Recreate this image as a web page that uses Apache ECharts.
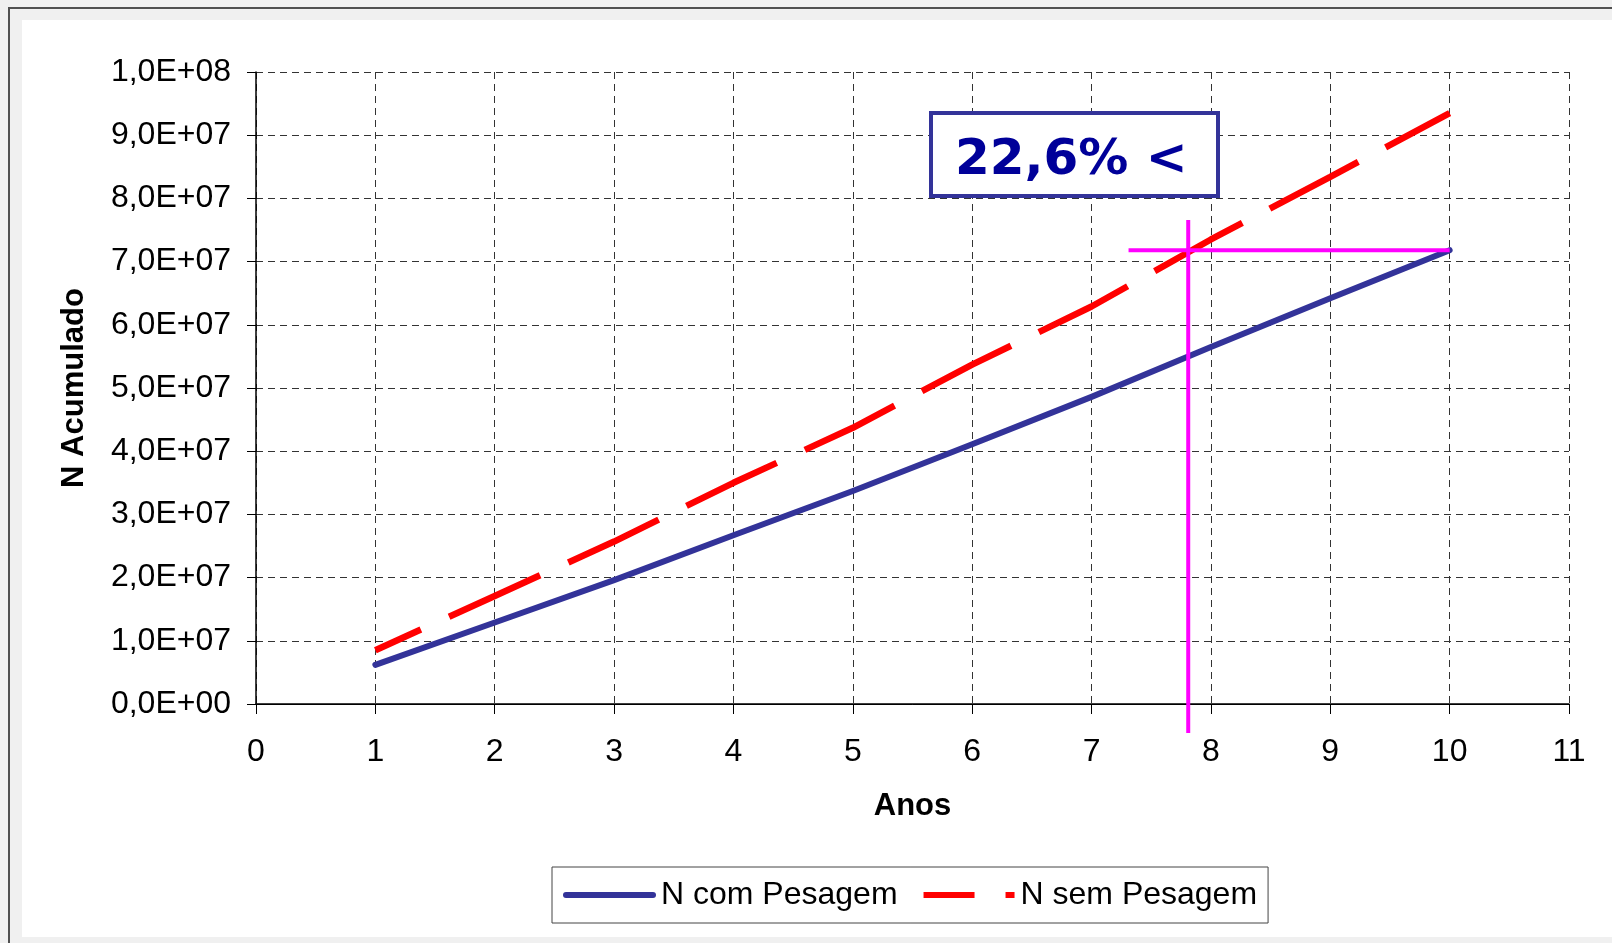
<!DOCTYPE html>
<html>
<head>
<meta charset="utf-8">
<script src="https://cdn.jsdelivr.net/npm/echarts@6/dist/echarts.min.js"></script>
<style>
  html, body { margin: 0; padding: 0; background: #f0f0f0; }
  #frame { position: absolute; left: 8px; top: 7px; width: 1620px; height: 950px;
           border-left: 2px solid #505050; border-top: 2px solid #505050; }
  #inner { position: absolute; left: 22px; top: 20px; width: 1590px; height: 917px; background: #fff; }
  #main { position: absolute; left: 0; top: 0; width: 1612px; height: 943px; }
</style>
</head>
<body>
<div id="frame"></div>
<div id="inner"></div>
<div id="main"></div>
<script>
// dados
var anos = [1, 2, 3, 4, 5, 6, 7, 8, 9, 10]
var nComPesagem = [6.2e6, 1.29e7, 1.96e7, 2.67e7, 3.37e7, 4.11e7, 4.86e7, 5.65e7, 6.42e7, 7.18e7]
var nSemPesagem = [8.5e6, 1.71e7, 2.57e7, 3.50e7, 4.37e7, 5.37e7, 6.29e7, 7.35e7, 8.34e7, 9.35e7]
// linhas de referencia (magenta)
var refVertX = [7.81, 7.81]
var refVertY = [7.66e7, -4.6e6]
var refHorX = [7.31, 10]
var refHorY = [7.18e7, 7.18e7]
var anotacao = '22,6% <'

function pares(xs, ys) {
  var out = []
  for (var i = 0; i < xs.length; i++) out.push([xs[i], ys[i]])
  return out
}

function fmtExp(v) {
  if (v === 0) return '0,0E+00'
  var e = Math.floor(Math.log10(v) + 1e-9)
  var m = v / Math.pow(10, e)
  return m.toFixed(1).replace('.', ',') + 'E+' + (e < 10 ? '0' + e : e)
}

var font = '"Liberation Sans", Arial, sans-serif'
var chart = echarts.init(document.getElementById('main'))

var option = {
  backgroundColor: 'transparent',
  animation: false,
  textStyle: { fontFamily: font, color: '#000' },
  title: {
    text: anotacao,
    left: 931,
    top: 113,
    padding: [23, 30, 10, 24],
    borderColor: '#333399',
    borderWidth: 4,
    backgroundColor: '#fff',
    textStyle: { fontFamily: '"DejaVu Sans", Verdana, sans-serif', fontWeight: 'bold', fontSize: 50, color: '#000099' }
  },
  legend: {
    left: 552,
    top: 867,
    padding: [12, 11, 12, 11],
    borderColor: '#444',
    borderWidth: 1,
    backgroundColor: '#fff',
    itemGap: 26,
    itemWidth: 93,
    itemHeight: 6,
    textStyle: { fontFamily: font, fontSize: 32, color: '#000' },
    data: [
      { name: 'N com Pesagem', icon: 'path://M3,0H90A3,3 0 0 1 90,6H3A3,3 0 0 1 3,0Z', itemStyle: { color: '#333399', borderWidth: 0 } },
      { name: 'N sem Pesagem', icon: 'path://M0,0H51V6H0Z M82,0H91V6H82Z', itemStyle: { color: '#ff0000', borderWidth: 0 } }
    ]
  },
  grid: { left: 256, top: 72, right: 43, bottom: 239 },
  xAxis: [{
    type: 'value',
    min: 0, max: 11, interval: 1,
    name: 'Anos',
    nameLocation: 'middle',
    nameGap: 87,
    nameTextStyle: { fontFamily: font, fontSize: 31, fontWeight: 'bold', color: '#000' },
    axisLine: { show: true, onZero: false, lineStyle: { color: '#000', width: 1.5 } },
    axisTick: { show: true, length: 10, lineStyle: { color: '#000', width: 1 } },
    axisLabel: { fontFamily: font, fontSize: 32, color: '#000', margin: 32 },
    splitLine: { show: true, lineStyle: { color: '#333', width: 1, type: [7, 5] } }
  }, {
    type: 'value',
    position: 'top',
    min: 0, max: 11,
    axisLine: { show: true, lineStyle: { color: '#000', width: 1 } },
    axisTick: { show: false },
    axisLabel: { show: false },
    splitLine: { show: false }
  }],
  yAxis: {
    type: 'value',
    min: 0, max: 1e8, interval: 1e7,
    name: 'N Acumulado',
    nameLocation: 'middle',
    nameGap: 166,
    nameTextStyle: { fontFamily: font, fontSize: 31, fontWeight: 'bold', color: '#000' },
    axisLine: { show: true, lineStyle: { color: '#000', width: 1.5 } },
    axisTick: { show: true, length: 9, lineStyle: { color: '#000', width: 1 } },
    axisLabel: { fontFamily: font, fontSize: 32, color: '#000', margin: 25, formatter: fmtExp },
    splitLine: { show: true, lineStyle: { color: '#333', width: 1, type: [7, 5] } }
  },
  series: [
    {
      name: 'N com Pesagem',
      type: 'line',
      data: pares(anos, nComPesagem),
      symbol: 'none',
      color: '#333399',
      lineStyle: { color: '#333399', width: 6, cap: 'round', join: 'round' },
      z: 3
    },
    {
      name: 'N sem Pesagem',
      type: 'line',
      data: pares(anos, nSemPesagem),
      symbol: 'none',
      color: '#ff0000',
      lineStyle: { color: '#ff0000', width: 6.5, type: [100, 31], dashOffset: 50, cap: 'butt' },
      z: 3
    },
    {
      name: 'refV',
      type: 'line',
      data: pares(refVertX, refVertY),
      symbol: 'none',
      clip: false,
      silent: true,
      lineStyle: { color: '#ff00ff', width: 4 },
      z: 4
    },
    {
      name: 'refH',
      type: 'line',
      data: pares(refHorX, refHorY),
      symbol: 'none',
      clip: false,
      silent: true,
      lineStyle: { color: '#ff00ff', width: 4 },
      z: 4
    }
  ]
}

chart.setOption(option)
</script>
</body>
</html>
